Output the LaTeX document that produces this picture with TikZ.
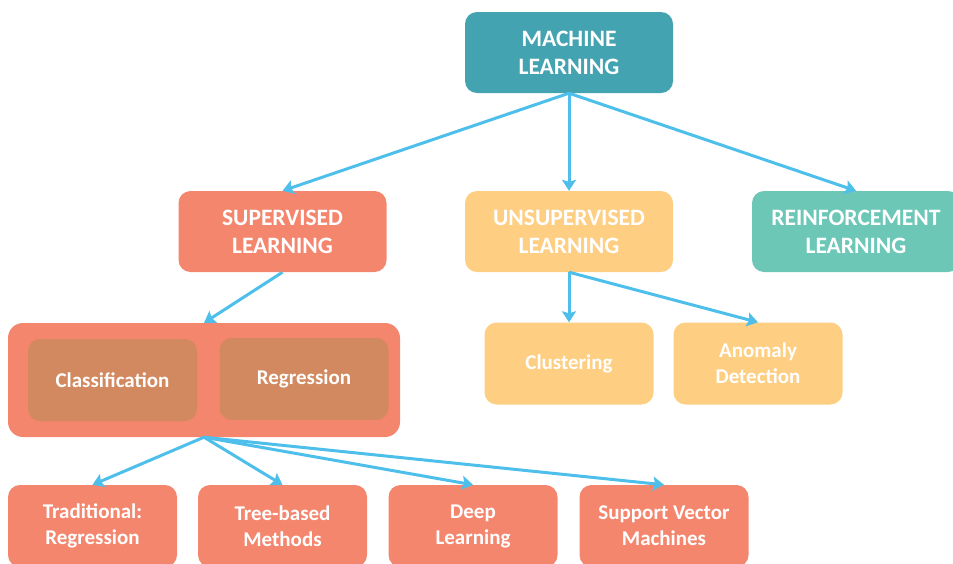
\documentclass[tikz,border=0pt]{standalone}
\usepackage{fontspec}
\setmainfont{Carlito}
\usetikzlibrary{arrows.meta}
\definecolor{mlteal}{HTML}{44A3B1}
\definecolor{salmon}{HTML}{F4866E}
\definecolor{lorange}{HTML}{FECE82}
\definecolor{rgreen}{HTML}{6CC7B7}
\definecolor{brownbox}{HTML}{D2895F}
\definecolor{arrowblue}{HTML}{4DBFEA}
\tikzset{
  box/.style={rounded corners=12pt, inner sep=0pt, text=white, align=center,
    font=\bfseries\fontsize{23.5}{28}\selectfont},
  bigbox/.style={box, minimum width=208pt, minimum height=81pt},
  smallbox/.style={box, minimum width=169pt, minimum height=82pt,
    font=\bfseries\fontsize{21}{26}\selectfont},
  conn/.style={draw=arrowblue, line width=3pt,
    -{Stealth[length=11pt,width=14pt,inset=2pt]}}
}
\begin{document}
\begin{tikzpicture}[x=1pt,y=-1pt]
\useasboundingbox (0,0) rectangle (953,563);
\clip (0,0) rectangle (953,563);
\node[bigbox, fill=mlteal] (ml) at (569,52.5) {MACHINE\\LEARNING};
\node[bigbox, fill=salmon] (sup) at (282.5,231.5) {SUPERVISED\\LEARNING};
\node[bigbox, fill=lorange] (uns) at (569,231.5) {UNSUPERVISED\\LEARNING};
\node[bigbox, fill=rgreen] (rein) at (856,231.5) {REINFORCEMENT\\LEARNING};
\node[box, fill=salmon, rounded corners=15pt, minimum width=392pt, minimum height=114pt] (cont) at (204,380) {};
\node[smallbox, fill=brownbox] (cls) at (112.5,380) {Classification};
\node[smallbox, fill=brownbox] (reg) at (304,379) {Regression};
\node[smallbox, fill=lorange] (clu) at (569,363.5) {Clustering};
\node[smallbox, fill=lorange] (ano) at (758,363.5) {Anomaly\\Detection};
\node[smallbox, fill=salmon] (trad) at (92.5,526) {Traditional:\\Regression};
\node[smallbox, fill=salmon] (tree) at (282.5,526) {Tree-based\\Methods};
\node[smallbox, fill=salmon] (deep) at (473,526) {Deep\\Learning};
\node[smallbox, fill=salmon] (svm) at (664,526) {Support Vector\\Machines};
\draw[conn] (ml.south) -- (sup.north);
\draw[conn] (ml.south) -- (uns.north);
\draw[conn] (ml.south) -- (rein.north);
\draw[conn] (sup.south) -- (cont.north);
\draw[conn] (uns.south) -- (clu.north);
\draw[conn] (uns.south) -- (ano.north);
\draw[conn] (cont.south) -- (trad.north);
\draw[conn] (cont.south) -- (tree.north);
\draw[conn] (cont.south) -- (deep.north);
\draw[conn] (cont.south) -- (svm.north);
\end{tikzpicture}
\end{document}
